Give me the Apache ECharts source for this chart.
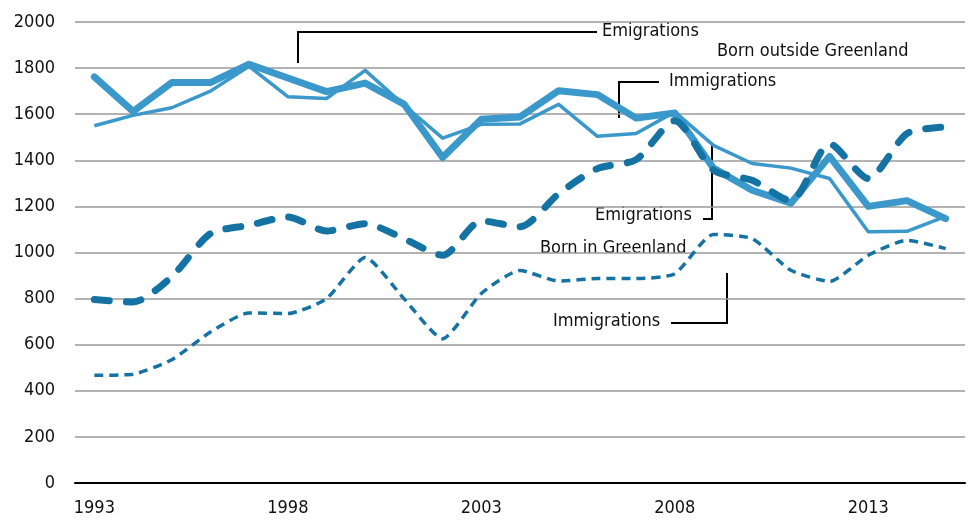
<!DOCTYPE html>
<html>
<head>
<meta charset="utf-8">
<script src="https://cdn.jsdelivr.net/npm/echarts@6/dist/echarts.min.js"></script>
<style>
  html, body { margin: 0; padding: 0; background: #fff; }
  #chart { width: 968px; height: 521px; }
</style>
</head>
<body>
<div id="chart"></div>
<script>
// data
const years = ['1993', '1994', '1995', '1996', '1997', '1998', '1999', '2000', '2001', '2002', '2003', '2004',
  '2005', '2006', '2007', '2008', '2009', '2010', '2011', '2012', '2013', '2014', '2015'];
const outsideEmigrations = [1762, 1612, 1737, 1737, 1817, 1757, 1698, 1735, 1644, 1412, 1578, 1588,
  1702, 1685, 1583, 1605, 1366, 1270, 1214, 1417, 1200, 1225, 1147];
const outsideImmigrations = [1550, 1595, 1628, 1700, 1808, 1676, 1668, 1790, 1640, 1496, 1556, 1558,
  1643, 1504, 1516, 1610, 1465, 1386, 1366, 1321, 1090, 1092, 1157];
const greenlandEmigrations = [796, 785, 895, 1082, 1118, 1154, 1093, 1125, 1060, 988, 1137, 1112,
  1255, 1364, 1403, 1572, 1357, 1313, 1224, 1472, 1321, 1516, 1545];
const greenlandImmigrations = [467, 472, 535, 655, 738, 735, 800, 978, 800, 626, 822, 922,
  876, 887, 887, 908, 1078, 1060, 923, 875, 988, 1053, 1017];

const FONT = "'DejaVu Sans Condensed', sans-serif";
const LIGHT = '#3a98cb';
const DARK = '#1573a4';

// annotation text + leader lines (layout only)
function label(text, x, y) {
  return {
    type: 'text', left: x, top: y - 11,
    style: { text: text, fill: '#111', font: '18px ' + FONT }
  };
}
function leader(points) {
  return {
    type: 'polyline', shape: { points: points },
    style: { stroke: '#000', lineWidth: 2, fill: null }
  };
}

const chart = echarts.init(document.getElementById('chart'), null, { renderer: 'canvas' });
chart.setOption({
  animation: false,
  grid: { left: 75, right: 3, top: 22, bottom: 38 },
  xAxis: {
    type: 'category',
    data: years,
    boundaryGap: true,
    axisTick: { show: false },
    axisLine: { lineStyle: { color: '#000', width: 2 } },
    axisLabel: { interval: 4, color: '#111', fontFamily: FONT, fontSize: 18, margin: 16 }
  },
  yAxis: {
    type: 'value',
    min: 0, max: 2000, interval: 200,
    axisLine: { show: false },
    axisTick: { show: false },
    axisLabel: { color: '#111', fontFamily: FONT, fontSize: 18, margin: 20, formatter: v => String(v) },
    splitLine: { lineStyle: { color: '#9a9a9a', width: 1.5 } }
  },
  series: [
    {
      name: 'Born outside Greenland - Emigrations', type: 'line', data: outsideEmigrations,
      symbol: 'none', lineStyle: { color: LIGHT, width: 7, cap: 'round', join: 'round' }
    },
    {
      name: 'Born outside Greenland - Immigrations', type: 'line', data: outsideImmigrations,
      symbol: 'none', lineStyle: { color: LIGHT, width: 3.5, join: 'round' }
    },
    {
      name: 'Born in Greenland - Emigrations', type: 'line', data: greenlandEmigrations,
      symbol: 'none', smooth: 0.25,
      lineStyle: { color: DARK, width: 7, type: [15, 17], cap: 'round' }
    },
    {
      name: 'Born in Greenland - Immigrations', type: 'line', data: greenlandImmigrations,
      symbol: 'none', smooth: 0.2,
      lineStyle: { color: DARK, width: 3.5, type: [9, 6] }
    }
  ],
  graphic: [
    leader([[298, 63], [298, 32], [597, 32]]),
    label('Emigrations', 602, 33),
    label('Born outside Greenland', 717, 53),
    leader([[619, 118], [619, 82], [659, 82]]),
    label('Immigrations', 669, 83),
    leader([[703, 219], [712, 219], [712, 145]]),
    label('Emigrations', 595, 217),
    label('Born in Greenland', 540, 250),
    leader([[671, 323], [727, 323], [727, 273]]),
    label('Immigrations', 553, 323)
  ]
});
</script>
</body>
</html>
